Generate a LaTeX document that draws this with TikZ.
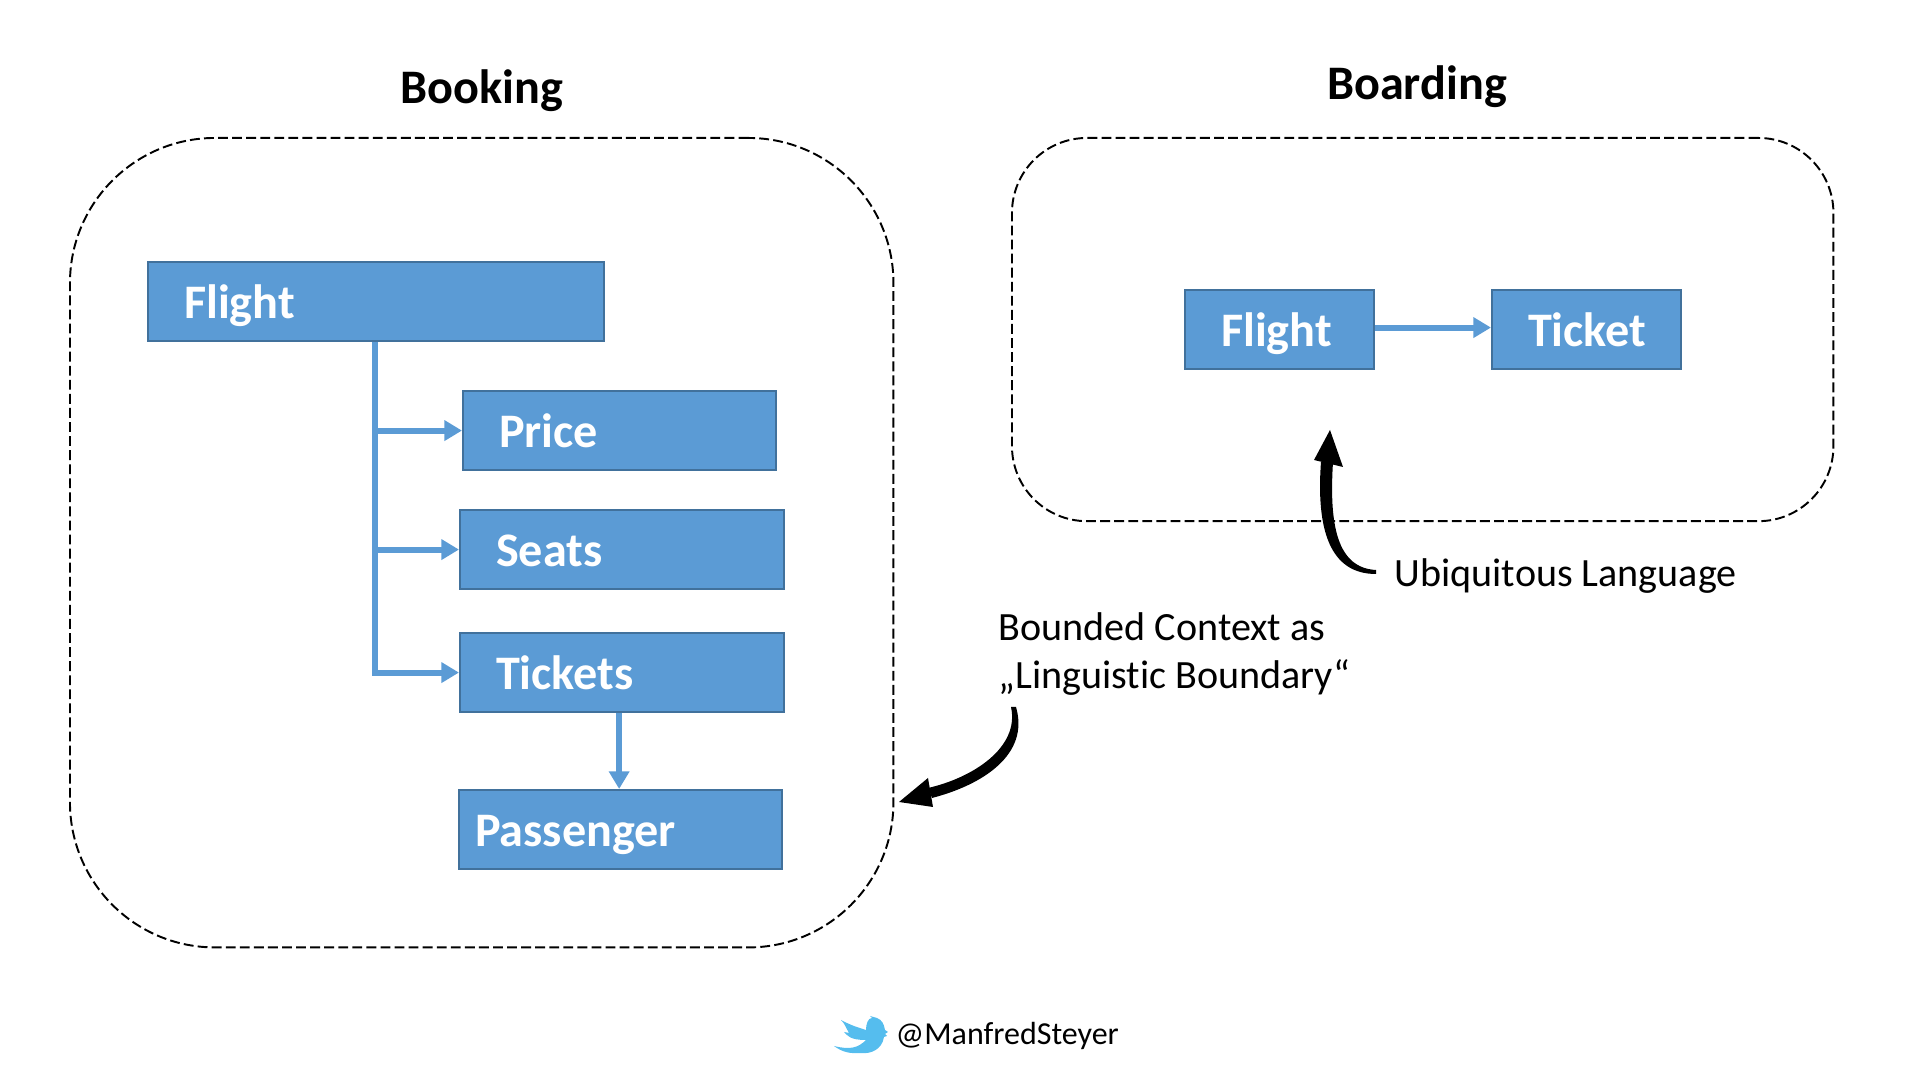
\documentclass[tikz,border=0pt]{standalone}
\usepackage{fontspec}
\setmainfont{Carlito}[Ligatures = CommonOff]
\usetikzlibrary{arrows.meta}
\definecolor{boxblue}{HTML}{5B9BD5}
\definecolor{boxedge}{HTML}{41719C}
\definecolor{birdblue}{HTML}{55BDEE}
\tikzset{
	entity/.style = {draw = boxedge, line width = 0.6pt, fill = boxblue, text = white, anchor = north west, minimum height = 0.79cm, inner xsep = 0.36cm, inner ysep = 0pt, align = left, text height = 10.6pt, text depth = 1.2pt, font = \fontsize{13.7}{16}\selectfont\bfseries},
	context/.style = {draw, dashed, dash pattern = on 2.8pt off 1.2pt, line width = 0.55pt, anchor = north west, inner sep = 0pt},
	title/.style = {font = \fontsize{13.7}{16}\selectfont\bfseries},
	remark/.style = {anchor = west, align = left, inner sep = 0pt, font = \fontsize{11.4}{13.6}\selectfont},
	link/.style = {draw = boxblue, line width = 1.7pt, -{Triangle[length = 5pt, width = 5.6pt]}}
}
\begin{document}
\begin{tikzpicture}[x = 0.01cm, y = -0.01cm]
	\useasboundingbox (0,0) rectangle (1920,1080);
	\node[title] (booking) at (482,91){Booking};
	\node[title] (boarding) at (1417,87){Boarding};
	\node[context, minimum width = 8.23cm, minimum height = 8.09cm, rounded corners = 1.45cm] (bookingctx) at (69,137){};
	\node[context, minimum width = 8.21cm, minimum height = 3.83cm, rounded corners = 0.75cm] (boardingctx) at (1011,137){};
	\node[entity, text width = 3.84cm] (flight) at (147,261){Flight};
	\node[entity, text width = 2.41cm] (price) at (462,390){Price};
	\node[entity, text width = 2.52cm] (seats) at (459,509){Seats};
	\node[entity, text width = 2.52cm] (tickets) at (459,632){Tickets};
	\node[entity, text width = 2.91cm, inner xsep = 0.16cm] (passenger) at (458,789){Passenger};
	\node[entity, text width = 1.17cm] (flightb) at (1184,289){Flight};
	\node[entity, text width = 1.17cm] (ticket) at (1491,289){Ticket};
	\coordinate (trunk) at (375,342);
	\draw[link] (trunk) |- (tickets.west);
	\draw[link] (trunk |- price.west) -- (price.west);
	\draw[link] (trunk |- seats.west) -- (seats.west);
	\draw[link] ([xshift = -0.03cm]tickets.south) -- ([xshift = -0.03cm]tickets.south |- passenger.north);
	\draw[link] ([yshift = 0.02cm]flightb.east) -- ([yshift = 0.02cm]ticket.west);
	\node[remark] (ubiquitous) at (1394,576){Ubiquitous Language};
	\node[remark] (bounded) at (998,654){Bounded Context as\\„Linguistic Boundary“};
	\node[remark, font = \fontsize{9.1}{11}\selectfont] (handle) at (895,1036){@ManfredSteyer};
	% tapered pointers
	\coordinate (ubitail) at (1376,572);
	\coordinate (ubineck) at (1327,462);
	\coordinate (ubitip) at (1330,430);
	\coordinate (boundtail) at (1014,707);
	\coordinate (boundneck) at (930,793);
	\coordinate (boundtip) at (899,802);
	\fill ([yshift = -0.02cm]ubitail) .. controls +(-46,0) and +(-5,68) .. ([xshift = -0.06cm]ubineck) -- ([xshift = 0.06cm]ubineck) .. controls +(-4,63) and +(-39,-2) .. ([yshift = 0.02cm]ubitail) -- cycle;
	\fill (1314,460) -- (ubitip) -- (1343,467) -- cycle;
	\fill ([xshift = -0.03cm]boundtail) .. controls +(9,41) and +(44,-10) .. ([shift = {(-2,-5)}]boundneck) -- ([shift = {(2,5)}]boundneck) .. controls +(50,-13) and +(14,48) .. ([xshift = 0.02cm]boundtail) -- cycle;
	\fill (928,778) -- (boundtip) -- (933,807) -- cycle;
	% bird
	\fill[birdblue] (834,1046) .. controls (850,1050) and (858,1048) .. (866,1040) .. controls (850,1040) and (848,1036) .. (844,1032) -- (849,1033) .. controls (846,1028) and (845,1024) .. (841,1020) .. controls (852,1026) and (860,1028) .. (866,1030) .. controls (866,1024) and (868,1018) .. (872,1018) -- (870,1016) -- (877,1018) .. controls (882,1020) and (884,1024) .. (885,1030) -- (888,1032) -- (885,1034) -- (887,1036) -- (884,1037) .. controls (882,1050) and (870,1054) .. (862,1053) .. controls (850,1054) and (842,1052) .. (834,1046) -- cycle;
\end{tikzpicture}
\end{document}
